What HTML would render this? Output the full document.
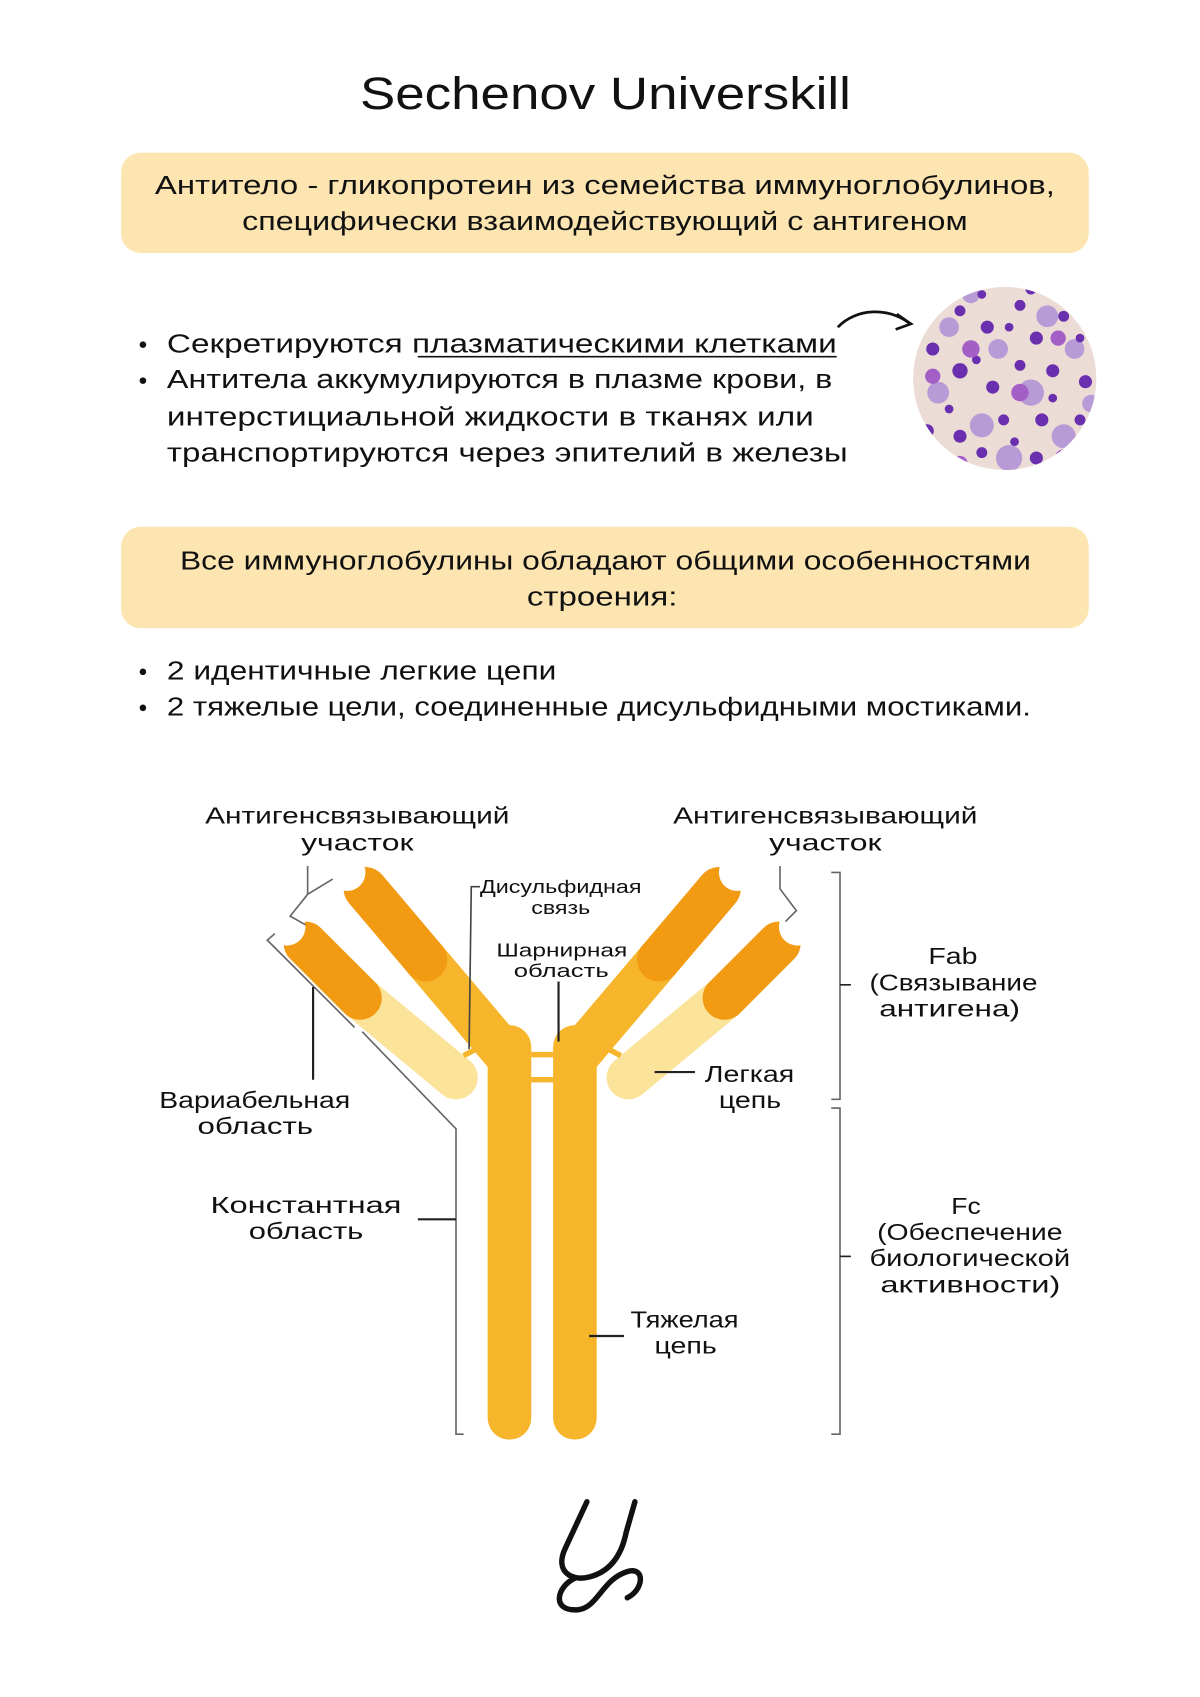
<!DOCTYPE html>
<html><head><meta charset="utf-8"><style>html,body{margin:0;padding:0;background:#fff}svg{display:block}</style></head>
<body>
<svg width="1200" height="1697" viewBox="0 0 1100 1556" preserveAspectRatio="none" xmlns="http://www.w3.org/2000/svg" font-family="Liberation Sans, sans-serif" fill="#111">
<rect width="1100" height="1556" fill="#fff"/>
<text x="330" y="100" font-size="42" textLength="450" lengthAdjust="spacingAndGlyphs">Sechenov Universkill</text>
<rect x="111" y="140" width="887" height="92" rx="18" fill="#fce5b1"/>
<g font-size="24">
<text x="142" y="178" textLength="825" lengthAdjust="spacingAndGlyphs">Антитело  - гликопротеин из семейства иммуноглобулинов,</text>
<text x="222" y="211" textLength="665" lengthAdjust="spacingAndGlyphs">специфически взаимодействующий с антигеном</text>
<circle cx="131" cy="316" r="3"/><circle cx="131" cy="349" r="3"/>
<text x="153" y="323" textLength="614" lengthAdjust="spacingAndGlyphs">Секретируются плазматическими клетками</text>
<text x="153" y="356" textLength="610" lengthAdjust="spacingAndGlyphs">Антитела аккумулируются в плазме крови, в</text>
<text x="153" y="390" textLength="593" lengthAdjust="spacingAndGlyphs">интерстициальной жидкости в тканях или</text>
<text x="153" y="423" textLength="624" lengthAdjust="spacingAndGlyphs">транспортируются через эпителий в железы</text>
</g>
<line x1="383" y1="327" x2="767" y2="327" stroke="#111" stroke-width="1.5"/>
<path d="M768 300 C785 282 815 282 833 296" fill="none" stroke="#111" stroke-width="2.5"/>
<path d="M822 288 L835 297 L821 302" fill="none" stroke="#111" stroke-width="2.5"/>
<defs><clipPath id="cc"><circle cx="921" cy="347" r="84"/></clipPath></defs>
<circle cx="921" cy="347" r="84" fill="#ecdcd6"/>
<g clip-path="url(#cc)">
<g fill="#b89ad6"><circle cx="870" cy="300" r="9"/><circle cx="960" cy="290" r="10"/><circle cx="900" cy="390" r="11"/><circle cx="945" cy="360" r="12"/><circle cx="985" cy="320" r="9"/><circle cx="860" cy="360" r="10"/><circle cx="925" cy="420" r="12"/><circle cx="975" cy="400" r="11"/><circle cx="915" cy="320" r="9"/><circle cx="890" cy="270" r="8"/><circle cx="1000" cy="370" r="8"/></g>
<g fill="#6a2fae"><circle cx="855" cy="320" r="6"/><circle cx="880" cy="285" r="5"/><circle cx="905" cy="300" r="6"/><circle cx="935" cy="280" r="5"/><circle cx="950" cy="310" r="6"/><circle cx="975" cy="290" r="5"/><circle cx="995" cy="350" r="6"/><circle cx="880" cy="340" r="7"/><circle cx="910" cy="355" r="6"/><circle cx="935" cy="335" r="5"/><circle cx="965" cy="340" r="6"/><circle cx="850" cy="395" r="6"/><circle cx="880" cy="400" r="6"/><circle cx="920" cy="385" r="5"/><circle cx="955" cy="385" r="6"/><circle cx="990" cy="385" r="5"/><circle cx="900" cy="415" r="5"/><circle cx="950" cy="420" r="6"/><circle cx="870" cy="375" r="4"/><circle cx="990" cy="310" r="4"/><circle cx="945" cy="265" r="5"/><circle cx="900" cy="270" r="4"/><circle cx="930" cy="405" r="4"/><circle cx="965" cy="365" r="4"/><circle cx="895" cy="330" r="4"/><circle cx="925" cy="300" r="4"/></g>
<g fill="#a45fc6"><circle cx="890" cy="320" r="8"/><circle cx="970" cy="310" r="7"/><circle cx="855" cy="345" r="7"/><circle cx="935" cy="360" r="8"/><circle cx="975" cy="420" r="8"/><circle cx="880" cy="425" r="7"/></g>
</g>
<rect x="111" y="483" width="887" height="93" rx="18" fill="#fce5b1"/>
<g font-size="24">
<text x="165" y="522" textLength="780" lengthAdjust="spacingAndGlyphs">Все иммуноглобулины обладают общими особенностями</text>
<text x="483" y="555" textLength="138" lengthAdjust="spacingAndGlyphs">строения:</text>
<circle cx="131" cy="616" r="3"/><circle cx="131" cy="649" r="3"/>
<text x="153" y="623" textLength="357" lengthAdjust="spacingAndGlyphs">2 идентичные легкие цепи</text>
<text x="153" y="656" textLength="792" lengthAdjust="spacingAndGlyphs">2 тяжелые цели, соединенные дисульфидными мостиками.</text>
</g>
<!-- antibody -->
<g stroke-linecap="round" fill="none">
<line x1="467" y1="960" x2="467" y2="1300" stroke="#f6b52a" stroke-width="40"/>
<line x1="527" y1="960" x2="527" y2="1300" stroke="#f6b52a" stroke-width="40"/>
<line x1="462" y1="965" x2="390" y2="880" stroke="#f6b52a" stroke-width="40"/>
<line x1="390" y1="880" x2="335" y2="815" stroke="#f29a12" stroke-width="40"/>
<line x1="532" y1="965" x2="604" y2="880" stroke="#f6b52a" stroke-width="40"/>
<line x1="604" y1="880" x2="659" y2="815" stroke="#f29a12" stroke-width="40"/>
<line x1="418" y1="988" x2="330" y2="915" stroke="#fbe39a" stroke-width="40"/>
<line x1="330" y1="915" x2="280" y2="865" stroke="#f29a12" stroke-width="40"/>
<line x1="576" y1="988" x2="664" y2="915" stroke="#fbe39a" stroke-width="40"/>
<line x1="664" y1="915" x2="714" y2="865" stroke="#f29a12" stroke-width="40"/>
</g>
<g fill="#fff"><circle cx="318" cy="800" r="17"/><circle cx="676" cy="800" r="17"/><circle cx="263" cy="850" r="17"/><circle cx="731" cy="850" r="17"/></g>
<g stroke="#f6b52a" stroke-width="5"><line x1="487" y1="967" x2="507" y2="967"/><line x1="487" y1="990" x2="507" y2="990"/><line x1="425" y1="968" x2="440" y2="960"/><line x1="569" y1="968" x2="554" y2="960"/></g>
<!-- leaders -->
<g stroke="#666" stroke-width="1.5" fill="none">
<polyline points="282,794 282,820"/>
<polyline points="282,820 266,840 280,848"/>
<polyline points="282,820 305,806"/>
<polyline points="715,794 715,815 730,835 720,845"/>
<polyline points="252,856 245,862 325,942"/>
<polyline points="332,946 418,1035 418,1315 425,1315"/>
<line x1="287" y1="905" x2="287" y2="990" stroke="#222" stroke-width="2"/>
<line x1="383" y1="1118" x2="418" y2="1118" stroke="#222" stroke-width="2"/>
<polyline points="440,813 432,813 430,962" stroke="#444"/>
<line x1="512" y1="900" x2="512" y2="955" stroke="#222" stroke-width="2"/>
<line x1="600" y1="983" x2="637" y2="983" stroke="#222" stroke-width="2"/>
<line x1="540" y1="1225" x2="572" y2="1225" stroke="#222" stroke-width="2"/>
<polyline points="762,800 770,800 770,1008 762,1008"/>
<line x1="770" y1="903" x2="780" y2="903" stroke="#222"/>
<polyline points="762,1016 770,1016 770,1315 762,1315"/>
<line x1="770" y1="1152" x2="780" y2="1152" stroke="#222"/>
</g>
<g font-size="21">
<text x="188" y="755" textLength="279" lengthAdjust="spacingAndGlyphs">Антигенсвязывающий</text>
<text x="276" y="780" textLength="103" lengthAdjust="spacingAndGlyphs">участок</text>
<text x="617" y="755" textLength="279" lengthAdjust="spacingAndGlyphs">Антигенсвязывающий</text>
<text x="705" y="780" textLength="103" lengthAdjust="spacingAndGlyphs">участок</text>
<text x="851" y="884" textLength="45" lengthAdjust="spacingAndGlyphs">Fab</text>
<text x="797" y="908" textLength="154" lengthAdjust="spacingAndGlyphs">(Связывание</text>
<text x="806" y="932" textLength="129" lengthAdjust="spacingAndGlyphs">антигена)</text>
<text x="146" y="1016" textLength="175" lengthAdjust="spacingAndGlyphs">Вариабельная</text>
<text x="181" y="1040" textLength="106" lengthAdjust="spacingAndGlyphs">область</text>
<text x="646" y="992" textLength="82" lengthAdjust="spacingAndGlyphs">Легкая</text>
<text x="659" y="1016" textLength="57" lengthAdjust="spacingAndGlyphs">цепь</text>
<text x="193" y="1112" textLength="175" lengthAdjust="spacingAndGlyphs">Константная</text>
<text x="228" y="1136" textLength="105" lengthAdjust="spacingAndGlyphs">область</text>
<text x="872" y="1113" textLength="27" lengthAdjust="spacingAndGlyphs">Fc</text>
<text x="804" y="1137" textLength="170" lengthAdjust="spacingAndGlyphs">(Обеспечение</text>
<text x="797" y="1161" textLength="184" lengthAdjust="spacingAndGlyphs">биологической</text>
<text x="807" y="1185" textLength="165" lengthAdjust="spacingAndGlyphs">активности)</text>
<text x="578" y="1217" textLength="99" lengthAdjust="spacingAndGlyphs">Тяжелая</text>
<text x="600" y="1241" textLength="57" lengthAdjust="spacingAndGlyphs">цепь</text>
</g>
<g font-size="17">
<text x="440" y="819" textLength="148" lengthAdjust="spacingAndGlyphs">Дисульфидная</text>
<text x="487" y="838" textLength="54" lengthAdjust="spacingAndGlyphs">связь</text>
<text x="455" y="877" textLength="120" lengthAdjust="spacingAndGlyphs">Шарнирная</text>
<text x="471" y="896" textLength="87" lengthAdjust="spacingAndGlyphs">область</text>
</g>
<!-- logo mark -->
<g fill="none" stroke="#111" stroke-width="5" stroke-linecap="round">
<path d="M538 1377 L518 1420 C508 1442 525 1450 540 1446 C560 1441 570 1425 574 1405 L582 1377"/>
<path d="M527 1447 C510 1455 505 1478 530 1476 C548 1474 552 1448 575 1441 C592 1436 590 1458 575 1465"/>
</g>
</svg>
</body></html>
